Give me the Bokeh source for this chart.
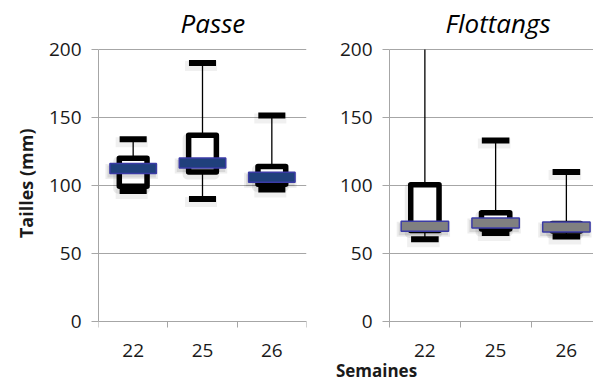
from bokeh.plotting import figure
from bokeh.layouts import row
from bokeh.models import Range1d, FixedTicker, Label, Title, ColumnDataSource
from bokeh.embed import file_html
from bokeh.resources import INLINE

weeks = ["22", "25", "26"]
y_ticks = [0, 50, 100, 150, 200]

passe_low = [96, 90, 97]
passe_q1 = [99.5, 110, 101]
passe_med = [112.5, 116.5, 106]
passe_q3 = [120, 137, 114]
passe_high = [134, 190, 151.5]

flott_low = [60.5, 65, 62.5]
flott_q1 = [67, 68, 66.5]
flott_med = [70, 72.5, 69.5]
flott_q3 = [100.5, 80, 72]
flott_high = [220, 133, 110]

FONT = "Open Sans"
TXT = "#1a1a1a"
GRID = "#a6a6a6"

H = 382
TOP = 41
PLOT_PX = 272                       # pixels from 0 to 200
Y_MAX = y_ticks[-1]
DY = Y_MAX / PLOT_PX                # data units per pixel (vertical)
Y_TOP = Y_MAX + 8 * DY
Y_MIN = Y_TOP - (H - TOP) * DY


def panel(title, low, q1, med, q3, high, med_fill, width, b_left, b_right,
          x_start, x_end, title_offset, ylabel=None):
    xs = [i + 0.5 for i in range(len(weeks))]
    p = figure(width=width, height=H, output_backend="svg",
               toolbar_location=None,
               x_range=Range1d(x_start, x_end), y_range=Range1d(Y_MIN, Y_TOP),
               min_border_left=b_left, min_border_right=b_right,
               min_border_top=TOP, min_border_bottom=0)
    p.outline_line_color = None
    frame_w = width - b_left - b_right
    DX = (x_end - x_start) / frame_w   # data units per pixel (horizontal)

    n = len(weeks)
    p.xgrid.visible = False
    p.ygrid.visible = False
    p.segment(x0=[0] * len(y_ticks), y0=y_ticks, x1=[n] * len(y_ticks), y1=y_ticks,
              line_color=GRID, line_width=1)

    top_clip = [min(v, Y_MAX) for v in high]   # plot area ends at 200
    src = ColumnDataSource(dict(x=xs, low=low, q1=q1, med=med, q3=q3, high=high,
                                wtop=top_clip,
                                left=[x - 0.2 for x in xs],
                                right=[x + 0.2 for x in xs]))
    sh = ColumnDataSource(dict(x=[x - 1.5 * DX for x in xs],
                               low=[v - 3 * DY for v in low],
                               high=[v - 3 * DY for v in high],
                               med=[v - 3 * DY for v in med],
                               q1=[v - 3 * DY for v in q1],
                               q3=[v - 3 * DY for v in q3],
                               left=[x - 0.2 - 1.5 * DX for x in xs],
                               right=[x + 0.2 - 1.5 * DX for x in xs]))

    # whiskers
    p.segment("x", "q3", "x", "wtop", source=src, line_color="black", line_width=1.3)
    p.segment("x", "q1", "x", "low", source=src, line_color="black", line_width=1.3)
    # box shadow + box
    p.quad(left="left", right="right", bottom="q1", top="q3", source=sh,
           fill_color=None, line_color="black", line_alpha=0.08, line_width=9,
           line_join="round")
    p.quad(left="left", right="right", bottom="q1", top="q3", source=src,
           fill_color="white", line_color="black", line_width=5.5,
           line_join="round")
    # caps (shadow + cap)
    for key in ("high", "low"):
        p.rect("x", key, width=0.39 + 5 * DX, height=10, height_units="screen",
               source=sh, fill_color="black", fill_alpha=0.06, line_color=None)
        p.rect("x", key, width=0.39, height=6, height_units="screen", source=src,
               fill_color="black", line_color=None)
    # median (shadow + bar)
    p.rect("x", "med", width=0.67 + 6 * DX, height=15, height_units="screen",
           source=sh, fill_color="black", fill_alpha=0.07, line_color=None)
    p.rect("x", "med", width=0.67 + 2 * DX, height=12, height_units="screen",
           source=sh, fill_color="black", fill_alpha=0.09, line_color=None)
    p.rect("x", "med", width=0.67, height=10, height_units="screen", source=src,
           fill_color=med_fill, line_color="#3b3ba6", line_width=1.5)

    # axes
    p.xaxis.fixed_location = 0
    p.xaxis.bounds = (0, n)
    p.xaxis.ticker = FixedTicker(ticks=xs, minor_ticks=list(range(n + 1)))
    p.xaxis.major_label_overrides = {x: w for x, w in zip(xs, weeks)}
    p.xaxis.major_tick_out = 0
    p.xaxis.major_tick_in = 0
    p.xaxis.minor_tick_out = 6
    p.xaxis.minor_tick_in = 0
    p.xaxis.minor_tick_line_color = GRID
    p.xaxis.major_label_standoff = 16
    p.yaxis.bounds = (0, Y_MAX)
    p.yaxis.ticker = FixedTicker(ticks=y_ticks)
    p.yaxis.major_tick_out = 7
    p.yaxis.major_tick_in = 0
    p.yaxis.major_tick_line_color = GRID
    p.yaxis.minor_tick_line_color = None
    p.yaxis.major_label_standoff = 10
    if b_left == 0:
        p.yaxis.fixed_location = 0
    for ax in (p.xaxis, p.yaxis):
        ax.axis_line_color = GRID
        ax.major_label_text_font = FONT
        ax.major_label_text_font_size = "19px"
        ax.major_label_text_color = TXT
    if ylabel:
        p.add_layout(Title(text=ylabel, text_font=FONT, text_font_style="bold",
                           text_font_size="18px", text_color=TXT,
                           align="right", offset=87, standoff=16), "left")

    p.title.text = title
    p.title.text_font = FONT
    p.title.text_font_style = "italic"
    p.title.text_font_size = "26px"
    p.title.text_color = "black"
    p.title.align = "left"
    p.title.offset = title_offset
    p.title.standoff = 1
    return p


# left panel: plot area 98..306 px; right panel plot area starts at 389 px
p1 = panel("Passe", passe_low, passe_q1, passe_med, passe_q3, passe_high,
           "#20407c", 308, 98, 2, 0, 3, 82, ylabel="Tailles (mm)")
R_W = 285
R_PX = 70.75
R_AXIS = 81
p2 = panel("Flottangs", flott_low, flott_q1, flott_med, flott_q3, flott_high,
           "#808080", R_W, 0, 0, -R_AXIS / R_PX, (R_W - R_AXIS) / R_PX, 137)
p2.add_layout(Label(x=-13 / R_PX, y=-49 * DY, text="Semaines", text_font=FONT,
                    text_font_style="bold", text_font_size="17px",
                    text_align="center", text_baseline="alphabetic",
                    text_color=TXT))

layout = row(p1, p2)
open("out.html", "w").write(file_html(layout, INLINE))
